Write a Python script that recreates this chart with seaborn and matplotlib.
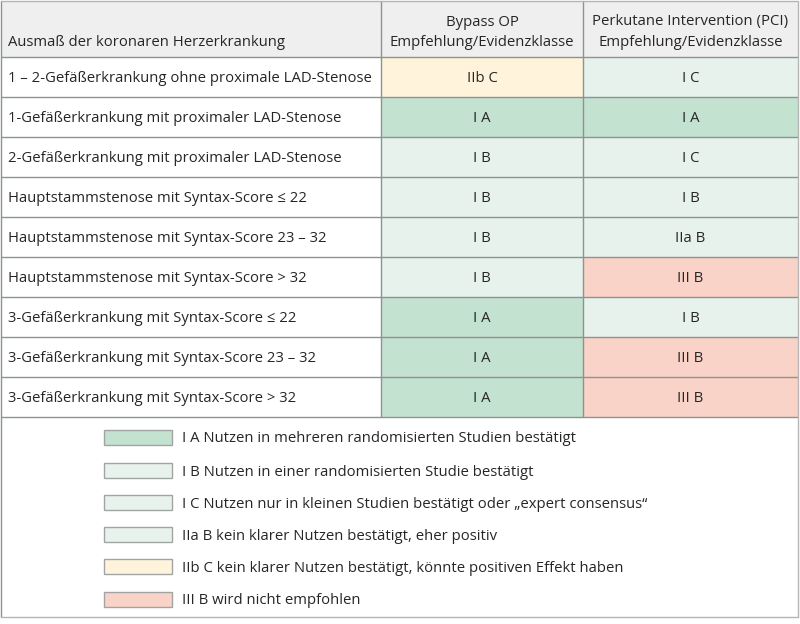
import numpy as np
import pandas as pd
import matplotlib
matplotlib.use("Agg")
import matplotlib.pyplot as plt
from matplotlib.colors import ListedColormap
from matplotlib.patches import Rectangle
import seaborn as sns

# ---------------- data ----------------
row_labels = [
    "1 – 2-Gefäßerkrankung ohne proximale LAD-Stenose",
    "1-Gefäßerkrankung mit proximaler LAD-Stenose",
    "2-Gefäßerkrankung mit proximaler LAD-Stenose",
    "Hauptstammstenose mit Syntax-Score ≤ 22",
    "Hauptstammstenose mit Syntax-Score 23 – 32",
    "Hauptstammstenose mit Syntax-Score > 32",
    "3-Gefäßerkrankung mit Syntax-Score ≤ 22",
    "3-Gefäßerkrankung mit Syntax-Score 23 – 32",
    "3-Gefäßerkrankung mit Syntax-Score > 32",
]
bypass = ["IIb C", "I A", "I B", "I B", "I B", "I B", "I A", "I A", "I A"]
pci = ["I C", "I A", "I C", "I B", "IIa B", "III B", "I B", "III B", "III B"]
header_label = "Ausmaß der koronaren Herzerkrankung"
header_bypass = ["Bypass OP", "Empfehlung/Evidenzklasse"]
header_pci = ["Perkutane Intervention (PCI)", "Empfehlung/Evidenzklasse"]
classes = ["I A", "I B", "I C", "IIa B", "IIb C", "III B"]
class_desc = [
    "Nutzen in mehreren randomisierten Studien bestätigt",
    "Nutzen in einer randomisierten Studie bestätigt",
    "Nutzen nur in kleinen Studien bestätigt oder „expert consensus“",
    "kein klarer Nutzen bestätigt, eher positiv",
    "kein klarer Nutzen bestätigt, könnte positiven Effekt haben",
    "wird nicht empfohlen",
]
class_colors = ["#c4e2d0", "#e7f2ec", "#e7f2ec", "#e7f2ec", "#fff3dc", "#fad3c8"]

# ---------------- style ----------------
sns.set_theme(style="white")
plt.rcParams["font.family"] = ["Open Sans", "DejaVu Sans"]
TXT = "#262626"
LINE = "#8e9390"
FS = 10.7
VA = "center_baseline"

W, H = 800, 624
fig = plt.figure(figsize=(W / 100, H / 100), dpi=100)

# layout (pixels)
x0, xb, xp, x1 = 1, 381, 583, 798
y_head, row_h = 57, 40
n = len(row_labels)
y_tab_end = y_head + n * row_h
y_bottom = 617

def px_axes(left, top, right, bottom):
    return fig.add_axes([left / W, 1 - bottom / H, (right - left) / W, (bottom - top) / H])

cmap = ListedColormap(class_colors)
idx = {c: i for i, c in enumerate(classes)}

for col_vals, (l, r) in [(bypass, (xb, xp)), (pci, (xp, x1))]:
    ax = px_axes(l, y_head, r, y_tab_end)
    codes = pd.DataFrame({"v": [idx[v] for v in col_vals]})
    annot = np.array(col_vals, dtype=object).reshape(-1, 1)
    sns.heatmap(codes, ax=ax, cmap=cmap, vmin=-0.5, vmax=len(classes) - 0.5,
                annot=annot, fmt="", cbar=False, xticklabels=False, yticklabels=False,
                annot_kws={"color": TXT, "fontsize": FS, "va": VA})
    ax.set_xlabel("")
    ax.set_ylabel("")

# overlay axes in pixel coordinates
ov = fig.add_axes([0, 0, 1, 1])
ov.set_xlim(0, W)
ov.set_ylim(H, 0)
ov.axis("off")

# header background
ov.add_patch(Rectangle((x0, 1), x1 - x0, y_head - 1, facecolor="#efefef", edgecolor="none", zorder=0))

# header texts
ov.text(8, 40, header_label, ha="left", va=VA, fontsize=FS, color=TXT)
for lines, xc in [(header_bypass, (xb + xp) / 2), (header_pci, (xp + x1) / 2)]:
    for k, t in enumerate(lines):
        ov.text(xc, 20 + 20 * k, t, ha="center", va=VA, fontsize=FS, color=TXT)

# row labels
for i, lab in enumerate(row_labels):
    ov.text(8, y_head + i * row_h + row_h / 2, lab, ha="left", va=VA,
            fontsize=FS, color=TXT)

# grid lines
for i in range(n + 1):
    y = y_head + i * row_h
    ov.plot([x0, x1], [y, y], color=LINE, lw=1.0, solid_capstyle="butt")
for x in (xb, xp):
    ov.plot([x, x], [1, y_tab_end], color=LINE, lw=1.0)
ov.plot([x0, x0], [1, y_bottom], color=LINE, lw=1.0)
ov.plot([x1, x1], [1, y_bottom], color="#b5b5b5", lw=1.0)
ov.plot([x0, x1], [1, 1], color="#b5b5b5", lw=1.0)
ov.plot([x0, x1], [y_bottom, y_bottom], color="#b5b5b5", lw=1.0)

# legend
leg_y = [437, 470, 502, 534, 566, 599]
for c, d, col, yc in zip(classes, class_desc, class_colors, leg_y):
    ov.add_patch(Rectangle((104, yc - 7.5), 68, 15, facecolor=col, edgecolor="#a0a4a2", lw=1.0))
    ov.text(182, yc, f"{c} {d}", ha="left", va=VA, fontsize=FS, color=TXT)

fig.savefig("out.png", dpi=100)
